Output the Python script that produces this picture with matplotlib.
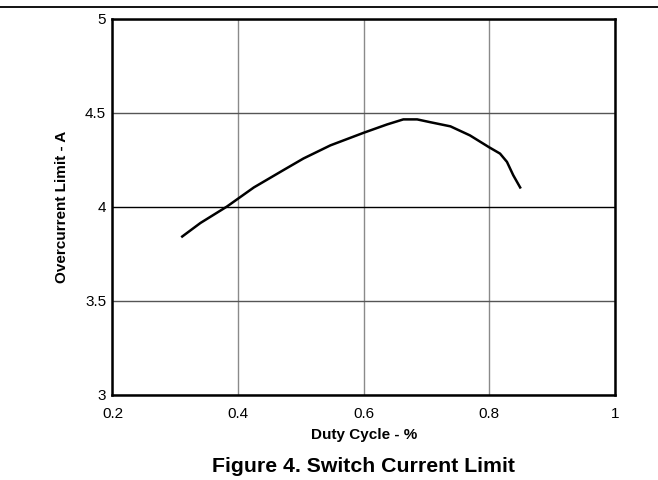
import matplotlib
matplotlib.use("Agg")
import matplotlib.pyplot as plt
from matplotlib.lines import Line2D

plt.rcParams['font.family'] = ['Liberation Sans', 'DejaVu Sans']

duty = [0.311, 0.340, 0.382, 0.425, 0.472, 0.504, 0.547, 0.600, 0.637, 0.663,
        0.685, 0.706, 0.738, 0.769, 0.799, 0.817, 0.828, 0.838, 0.849]
current = [3.843, 3.915, 4.002, 4.104, 4.196, 4.258, 4.328, 4.395, 4.439, 4.466,
           4.466, 4.451, 4.429, 4.381, 4.319, 4.284, 4.240, 4.169, 4.104]

xticks = [0.2, 0.4, 0.6, 0.8, 1.0]
xticklabels = ["0.2", "0.4", "0.6", "0.8", "1"]
yticks = [3.0, 3.5, 4.0, 4.5, 5.0]
yticklabels = ["3", "3.5", "4", "4.5", "5"]

W, H = 658, 480
fig = plt.figure(figsize=(W/100, H/100), dpi=100)
L, R, T, B = 112.5, 615, 19, 395
ax = fig.add_axes([L/W, 1-B/H, (R-L)/W, (B-T)/H])

ax.plot(duty, current, color='black', lw=1.8, zorder=3)
ax.set_xlim(0.2, 1.0)
ax.set_ylim(3.0, 5.0)
ax.set_xticks(xticks)
ax.set_xticklabels(xticklabels)
ax.set_yticks(yticks)
ax.set_yticklabels(yticklabels)
ax.tick_params(length=0, labelsize=11)
ax.tick_params(axis='x', pad=9)
ax.tick_params(axis='y', pad=4.5)
ax.grid(True, axis='x', color='#8a8a8a', lw=1.0)
ax.grid(True, axis='y', color='#555555', lw=1.0)
ax.set_axisbelow(True)
ygl = ax.yaxis.get_gridlines()
ygl[2].set_color('black')
for s in ax.spines.values():
    s.set_linewidth(1.8)
    s.set_color('black')

fig.text(364.5/W, 1-435/H, "Duty Cycle - %", fontsize=11, fontweight='bold',
         ha='center', va='center')
fig.text(62.5/W, 1-207/H, "Overcurrent Limit - A", fontsize=11, fontweight='bold',
         ha='center', va='center', rotation=90)

fig.add_artist(Line2D([0, 1], [1-7/H, 1-7/H], color='black', lw=1.3, transform=fig.transFigure))
fig.text(363.5/W, 1-466/H, "Figure 4. Switch Current Limit", fontsize=15.3, fontweight='bold',
         ha='center', va='center')

fig.savefig("out.png", dpi=100)
